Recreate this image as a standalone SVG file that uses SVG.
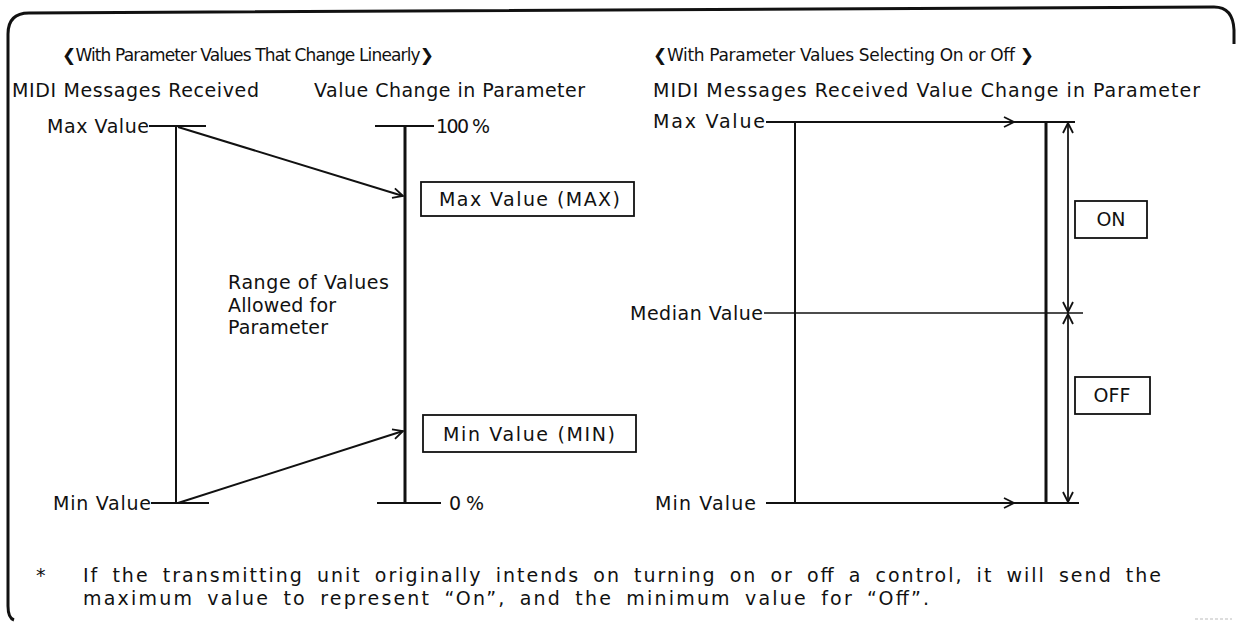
<svg xmlns="http://www.w3.org/2000/svg" width="1236" height="622" viewBox="0 0 1236 622">
<style>
text{font-family:"DejaVu Sans","Liberation Sans","Noto Sans CJK SC",sans-serif;font-size:19px;fill:#111}
.ttl{font-size:17px}
.fn{word-spacing:5px}
.ln{stroke:#111;stroke-width:2;fill:none}
.thk{stroke:#111;stroke-width:3;fill:none}
.thin{stroke:#111;stroke-width:1.3;fill:none}
.box{stroke:#111;stroke-width:1.8;fill:#fff}
</style>
<defs>
<marker id="ah" viewBox="0 0 12 12" refX="11" refY="6" markerWidth="12" markerHeight="12" markerUnits="userSpaceOnUse" orient="auto">
<path d="M1,1 L11,6 L1,11" fill="none" stroke="#111" stroke-width="1.8"/>
</marker>
</defs>
<path class="thk" d="M14,620 Q8,618 8,606 L8,34 Q8,13 29,13 L1214,7 Q1233,7 1234,30 L1234,44"/>
<line x1="1195" y1="619" x2="1232" y2="619" stroke="#bbb" stroke-width="1" stroke-dasharray="3,2"/>

<g id="titles">
<text class="ttl" x="62" y="61" textLength="372" lengthAdjust="spacing">❮With Parameter Values That Change Linearly❯</text>
<text class="ttl" x="653" y="61" textLength="381" lengthAdjust="spacing">❮With Parameter Values Selecting On or Off ❯</text>
</g>

<g id="left-labels">
<text x="12" y="97" textLength="247" lengthAdjust="spacing">MIDI Messages Received</text>
<text x="314" y="97" textLength="271" lengthAdjust="spacing">Value Change in Parameter</text>
<text x="47" y="133" textLength="102" lengthAdjust="spacing">Max Value</text>
<text x="436" y="133" textLength="54" lengthAdjust="spacing">100 %</text>
<text x="53" y="510" textLength="98" lengthAdjust="spacing">Min Value</text>
<text x="449" y="510" textLength="35" lengthAdjust="spacing">0 %</text>
</g>

<g id="range-label">
<text x="228" y="289" textLength="161" lengthAdjust="spacing">Range of Values</text>
<text x="228" y="312" textLength="108" lengthAdjust="spacing">Allowed for</text>
<text x="228" y="334" textLength="100" lengthAdjust="spacing">Parameter</text>
</g>

<g id="max-box">
<rect class="box" x="421" y="182" width="213" height="34"/>
<text x="439" y="206" textLength="181" lengthAdjust="spacing">Max Value (MAX)</text>
</g>
<g id="min-box">
<rect class="box" x="423" y="415" width="213" height="37"/>
<text x="443" y="441" textLength="172" lengthAdjust="spacing">Min Value (MIN)</text>
</g>

<g id="right-labels">
<text x="653" y="97" textLength="547" lengthAdjust="spacing">MIDI Messages Received Value Change in Parameter</text>
<text x="653" y="128" textLength="112" lengthAdjust="spacing">Max Value</text>
<text x="630" y="320" textLength="133" lengthAdjust="spacing">Median Value</text>
<text x="655" y="510" textLength="101" lengthAdjust="spacing">Min Value</text>
</g>

<g id="on-box">
<rect class="box" x="1075" y="201" width="72" height="37"/>
<text x="1111" y="226" text-anchor="middle">ON</text>
</g>
<g id="off-box">
<rect class="box" x="1075" y="377" width="75" height="37"/>
<text x="1112" y="402" text-anchor="middle">OFF</text>
</g>

<g id="connectors">
<!-- left diagram -->
<line class="ln" x1="149" y1="126" x2="206" y2="126"/>
<line class="ln" x1="375" y1="126" x2="434" y2="126"/>
<line class="ln" x1="176" y1="126" x2="176" y2="503"/>
<line class="thk" x1="405" y1="126" x2="405" y2="503"/>
<line class="ln" x1="151" y1="503" x2="209" y2="503"/>
<line class="ln" x1="377" y1="503" x2="441" y2="503"/>
<line class="ln" x1="178" y1="127" x2="403" y2="196" marker-end="url(#ah)"/>
<line class="ln" x1="178" y1="503" x2="403" y2="431" marker-end="url(#ah)"/>
<!-- right diagram -->
<line class="ln" x1="766" y1="122" x2="1014" y2="122" marker-end="url(#ah)"/>
<line class="ln" x1="1012" y1="122" x2="1075" y2="122"/>
<line class="ln" x1="766" y1="503" x2="1014" y2="503" marker-end="url(#ah)"/>
<line class="ln" x1="1012" y1="503" x2="1079" y2="503"/>
<line class="thin" x1="764" y1="313" x2="1083" y2="313"/>
<line class="ln" x1="795" y1="122" x2="795" y2="503"/>
<line class="thk" x1="1046" y1="122" x2="1046" y2="503"/>
<line class="thin" x1="1068" y1="313" x2="1068" y2="123" marker-end="url(#ah)"/>
<line class="thin" x1="1068" y1="123" x2="1068" y2="312" marker-end="url(#ah)"/>
<line class="thin" x1="1068" y1="503" x2="1068" y2="314" marker-end="url(#ah)"/>
<line class="thin" x1="1068" y1="314" x2="1068" y2="502" marker-end="url(#ah)"/>
</g>

<g id="footnote">
<text x="36" y="582">*</text>
<text class="fn" x="83" y="582" textLength="1078" lengthAdjust="spacing">If the transmitting unit originally intends on turning on or off a control, it will send the</text>
<text class="fn" x="83" y="605" textLength="846" lengthAdjust="spacing">maximum value to represent  “On”, and the minimum value for  “Off”.</text>
</g>
</svg>
